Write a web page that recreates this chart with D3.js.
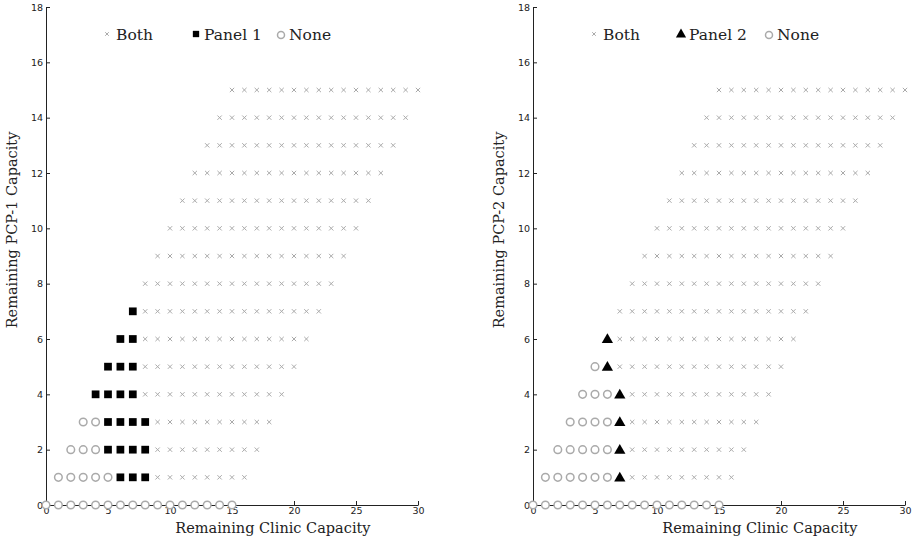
<!DOCTYPE html>
<html><head><meta charset="utf-8">
<script src="https://cdn.jsdelivr.net/npm/d3@7"></script>
<style>body{margin:0;background:#fff}svg{display:block}</style>
</head><body>
<script>
// Tick labels
const xTicks = [0,5,10,15,20,25,30];
const yTicks = [0,2,4,6,8,10,12,14,16,18];
// Grid segments: [row (remaining PCP capacity), first clinic value, last clinic value]
const leftNone  = [[0,0,15],[1,1,5],[2,2,4],[3,3,4]];
const leftPanel = [[1,6,8],[2,5,8],[3,5,8],[4,4,7],[5,5,7],[6,6,7],[7,7,7]];
const leftBoth  = [[1,9,16],[2,9,17],[3,9,18],[4,8,19],[5,8,20],[6,8,21],[7,8,22],[8,8,23],[9,9,24],[10,10,25],[11,11,26],[12,12,27],[13,13,28],[14,14,29],[15,15,30]];
const rightNone  = [[0,0,15],[1,1,6],[2,2,6],[3,3,6],[4,4,6],[5,5,5]];
const rightPanel = [[1,7,7],[2,7,7],[3,7,7],[4,7,7],[5,6,6],[6,6,6]];
const rightBoth  = [[1,8,16],[2,8,17],[3,8,18],[4,8,19],[5,7,20],[6,7,21],[7,7,22],[8,8,23],[9,9,24],[10,10,25],[11,11,26],[12,12,27],[13,13,28],[14,14,29],[15,15,30]];

function expand(segs){const p=[];segs.forEach(([y,a,b])=>{for(let x=a;x<=b;x++)p.push([x,y]);});return p;}

const W=912,H=544;
const svg=d3.select("body").append("svg").attr("width",W).attr("height",H);
const GRAY="#aaaaaa";
const serif="'DejaVu Serif', serif";

function panel(x0,x1,panelName,panelShape,none,pnl,both,ylab,leg){
  const x=d3.scaleLinear().domain([0,30]).range([x0,x1]);
  const y=d3.scaleLinear().domain([0,18]).range([505,7]);
  const g=svg.append("g");
  const ax=g.append("g").attr("transform",`translate(0,${y(0)})`)
    .call(d3.axisBottom(x).tickValues(xTicks).tickSizeInner(-4).tickSizeOuter(0).tickPadding(3));
  const ay=g.append("g").attr("transform",`translate(${x0},0)`)
    .call(d3.axisLeft(y).tickValues(yTicks).tickSizeInner(-4).tickSizeOuter(0).tickPadding(3));
  [ax,ay].forEach(a=>{a.selectAll("path,line").attr("stroke","#222");
    a.selectAll("text").attr("font-family","'DejaVu Sans', sans-serif").attr("font-size",9.5).attr("fill","#222");});
  ax.selectAll("text").attr("dy","0.6em");
  // marks
  const cross=d3.symbol().type(d3.symbolX).size(14);
  g.append("g").selectAll("path").data(expand(both)).join("path")
    .attr("d",cross).attr("transform",d=>`translate(${x(d[0])},${y(d[1])})`)
    .attr("fill","none").attr("stroke",GRAY).attr("stroke-width",1);
  g.append("g").selectAll("circle").data(expand(none)).join("circle")
    .attr("cx",d=>x(d[0])).attr("cy",d=>y(d[1])).attr("r",3.8)
    .attr("fill","#fff").attr("stroke",GRAY).attr("stroke-width",1.5);
  const sh = panelShape==="square"?d3.symbol().type(d3.symbolSquare).size(60):d3.symbol().type(d3.symbolTriangle).size(55);
  g.append("g").selectAll("path").data(expand(pnl)).join("path")
    .attr("d",sh).attr("transform",d=>`translate(${x(d[0])},${y(d[1])+(panelShape==="square"?0:0.8)})`)
    .attr("fill","#000");
  // axis labels
  g.append("text").attr("x",x0+0.61*(x1-x0)).attr("y",533).attr("text-anchor","middle")
    .attr("font-family",serif).attr("font-size",14.5).attr("fill","#222").text("Remaining Clinic Capacity");
  g.append("text").attr("transform",`translate(${x0-29},230) rotate(-90)`).attr("text-anchor","middle")
    .attr("font-family",serif).attr("font-size",14.5).attr("fill","#222").text(ylab);
  // legend
  const ly=34;
  g.append("path").attr("d",d3.symbol().type(d3.symbolX).size(10)).attr("transform",`translate(${leg[0]},${ly})`)
    .attr("fill","none").attr("stroke",GRAY);
  g.append("text").attr("x",leg[0]+9).attr("y",ly+6).attr("font-family",serif).attr("font-size",15.5).attr("fill","#222").text("Both");
  g.append("path").attr("d",panelShape==="square"?d3.symbol().type(d3.symbolSquare).size(40):d3.symbol().type(d3.symbolTriangle).size(45))
    .attr("transform",`translate(${leg[1]},${ly+(panelShape==="square"?0:0.5)})`).attr("fill","#000");
  g.append("text").attr("x",leg[1]+8).attr("y",ly+6).attr("font-family",serif).attr("font-size",15.5).attr("fill","#222").text(panelName);
  g.append("circle").attr("cx",leg[2]).attr("cy",ly+1).attr("r",3.5).attr("fill","#fff").attr("stroke",GRAY).attr("stroke-width",1.5);
  g.append("text").attr("x",leg[2]+8).attr("y",ly+6).attr("font-family",serif).attr("font-size",15.5).attr("fill","#222").text("None");
}
panel(46,418,"Panel 1","square",leftNone,leftPanel,leftBoth,"Remaining PCP-1 Capacity",[107,196,281]);
panel(533,905,"Panel 2","triangle",rightNone,rightPanel,rightBoth,"Remaining PCP-2 Capacity",[594,681,769]);
</script>
</body></html>
